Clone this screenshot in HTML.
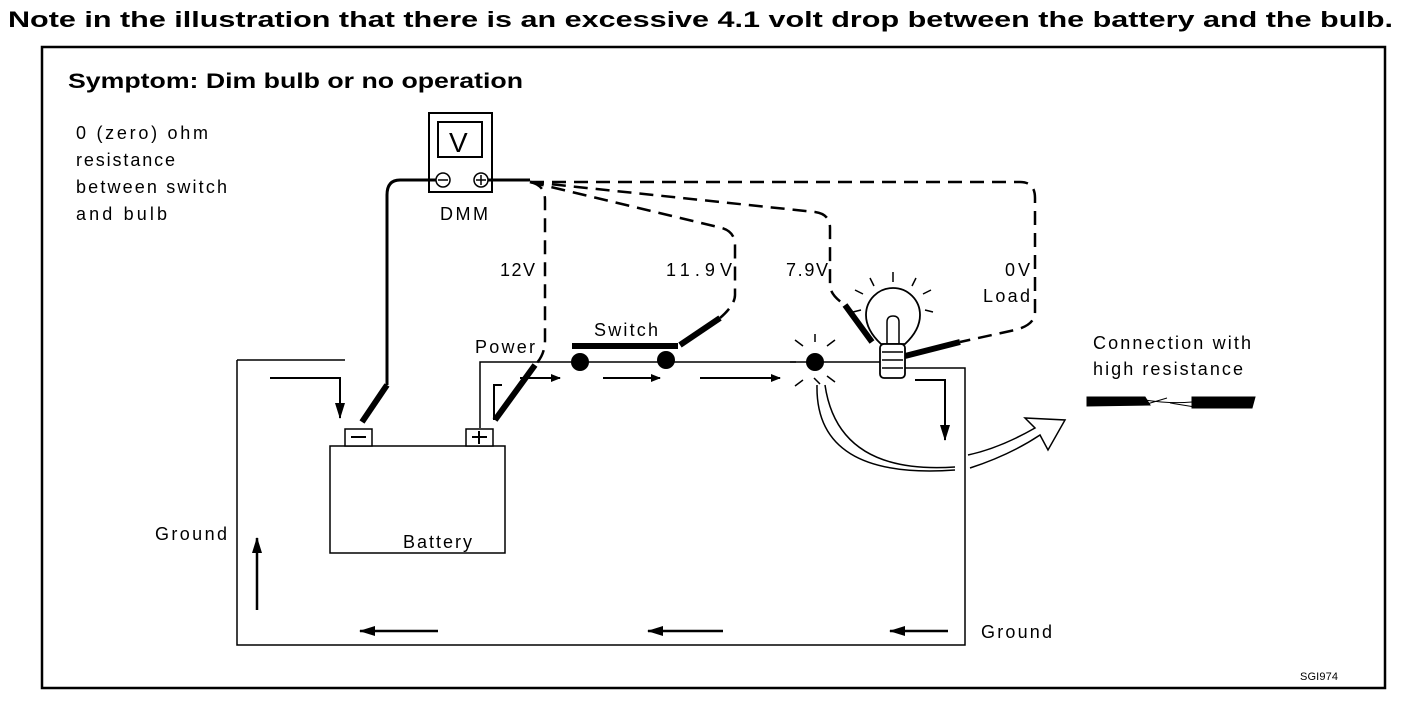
<!DOCTYPE html>
<html><head><style>
html,body{margin:0;padding:0;background:#fff;}
svg{display:block;}
text{font-family:"Liberation Sans",sans-serif;fill:#000;}
</style></head><body>
<svg width="1408" height="702" viewBox="0 0 1408 702" xmlns="http://www.w3.org/2000/svg">
<defs>
<marker id="ah" markerWidth="10" markerHeight="8" refX="9" refY="4" orient="auto" markerUnits="userSpaceOnUse">
<path d="M0,0 L10,4 L0,8 z" fill="#000"/></marker>
<marker id="ahl" markerWidth="16" markerHeight="10" refX="15" refY="5" orient="auto" markerUnits="userSpaceOnUse">
<path d="M0,0 L16,5 L0,10 z" fill="#000"/></marker>
</defs>
<rect x="42" y="47" width="1343" height="641" fill="none" stroke="#000" stroke-width="2.5"/>
<!-- DMM -->
<rect x="429" y="113" width="63" height="79" fill="#fff" stroke="#000" stroke-width="2"/>
<rect x="438" y="122" width="44" height="35" fill="none" stroke="#000" stroke-width="2"/>
<circle cx="443" cy="180" r="7" fill="none" stroke="#000" stroke-width="1.5"/>
<line x1="438" y1="180" x2="448" y2="180" stroke="#000" stroke-width="1.5"/>
<circle cx="481" cy="180" r="7" fill="none" stroke="#000" stroke-width="1.5"/>
<path d="M476,180h10M481,175v10" stroke="#000" stroke-width="1.5"/>
<g fill="none" stroke="#000">
<path d="M436,180 H400 Q387,180 387,195 V385" stroke-width="3"/>
<path d="M387,385 L362,422" stroke-width="6"/>
<path d="M488,180 H530" stroke-width="3"/>
<path d="M237,360 V645 H965 V368 H900" stroke-width="1.5"/>
<path d="M237,360 H345" stroke-width="1.5"/>
<path d="M480,428 V362 H815 H890" stroke-width="1.5"/>
<path d="M572,346 H678" stroke-width="6"/>
<g stroke-width="2.5" stroke-dasharray="14,8">
<path d="M530,182 Q545,185 545,200 V340 Q545,355 535,365"/>
<path d="M530,182 L722,228 Q735,232 735,245 V295 Q735,305 720,318"/>
<path d="M530,182 L815,212 Q830,214 830,228 V285 Q830,295 845,305"/>
<path d="M530,182 H1020 Q1035,182 1035,198 V312 Q1035,325 1015,330 L960,342"/>
</g>
<path d="M535,365 L495,420" stroke-width="6"/>
<path d="M720,318 L680,345" stroke-width="6"/>
<path d="M845,305 L872,342" stroke-width="6"/>
<path d="M960,342 L905,356" stroke-width="6"/>
<rect x="330" y="446" width="175" height="107" stroke-width="1.5" fill="#fff"/>
<rect x="345" y="429" width="27" height="17" stroke-width="1.5" fill="#fff"/>
<rect x="466" y="429" width="27" height="17" stroke-width="1.5" fill="#fff"/>
<path d="M351,437h15" stroke-width="2"/>
<path d="M472,437h15M479,431v13" stroke-width="2"/>
<path d="M270,378 H340 V418" stroke-width="2" marker-end="url(#ahl)"/>
<path d="M494,420 V385 H502" stroke-width="2"/>
<path d="M520,378 H560" stroke-width="2" marker-end="url(#ah)"/>
<path d="M603,378 H660" stroke-width="2" marker-end="url(#ah)"/>
<path d="M700,378 H780" stroke-width="2" marker-end="url(#ah)"/>
<path d="M915,380 H945 V440" stroke-width="2" marker-end="url(#ahl)"/>
<path d="M438,631 H360" stroke-width="2.5" marker-end="url(#ahl)"/>
<path d="M723,631 H648" stroke-width="2.5" marker-end="url(#ahl)"/>
<path d="M948,631 H890" stroke-width="2.5" marker-end="url(#ahl)"/>
<path d="M257,610 V538" stroke-width="2.5" marker-end="url(#ahl)"/>
<path d="M817,385 Q815,480 955,470 M970,468 Q1010,455 1040,435 L1048,450 L1065,420 L1025,418 L1035,428 Q1000,448 968,455 M955,467 Q838,475 825,385" stroke-width="1.5"/>
<path d="M881,344 Q866,330 866,315 A27,27 0 1 1 920,315 Q920,330 905,344 Z" stroke-width="1.8" fill="#fff"/>
<rect x="880" y="344" width="25" height="34" rx="4" stroke-width="1.8" fill="#fff"/>
<path d="M882,352h21M882,360h21M882,368h21" stroke-width="1.5"/>
<path d="M887,344 V322 Q887,316 893,316 Q899,316 899,322 V344" stroke-width="1.5"/>
<path d="M893,272v10M870,278l4,8M916,278l-4,8M855,290l8,4M931,290l-8,4M853,312l8,-2M933,312l-8,-2" stroke-width="1.5"/>
<path d="M795,340l8,6M815,334v8M835,340l-8,6M795,386l8,-6M820,384l-6,-6M835,382l-8,-6M790,362h6" stroke-width="1.5"/>
<path d="M1087,397 H1145 L1150,405 L1087,406 Z M1192,397 H1255 L1252,408 H1192 Z" fill="#000" stroke-width="1"/>
<path d="M1145,400 Q1170,404 1192,402 M1147,404 l20,-6 M1170,403 l25,4" stroke-width="1"/>
</g>
<circle cx="580" cy="362" r="9" fill="#000"/>
<circle cx="666" cy="360" r="9" fill="#000"/>
<circle cx="815" cy="362" r="9" fill="#000"/>
<!-- text -->
<text x="8" y="27" font-size="22" font-weight="bold" textLength="1385" lengthAdjust="spacingAndGlyphs">Note in the illustration that there is an excessive 4.1 volt drop between the battery and the bulb.</text>
<text x="68" y="88" font-size="21" font-weight="bold" textLength="455" lengthAdjust="spacingAndGlyphs">Symptom: Dim bulb or no operation</text>
<text x="449" y="152" font-size="28">V</text>
<g font-size="18">
<text x="76" y="139" textLength="132">0 (zero) ohm</text>
<text x="76" y="166" textLength="99">resistance</text>
<text x="76" y="193" textLength="151">between switch</text>
<text x="76" y="220" textLength="91">and bulb</text>
<text x="440" y="220" textLength="48">DMM</text>
<text x="500" y="276" textLength="35">12V</text>
<text x="666" y="276" textLength="66">11.9V</text>
<text x="786" y="276" textLength="42">7.9V</text>
<text x="1005" y="276" textLength="25">0V</text>
<text x="983" y="302" textLength="47">Load</text>
<text x="475" y="353" textLength="60">Power</text>
<text x="594" y="336" textLength="64">Switch</text>
<text x="155" y="540" textLength="72">Ground</text>
<text x="403" y="548" textLength="69">Battery</text>
<text x="981" y="638" textLength="71">Ground</text>
<text x="1093" y="349" textLength="158">Connection with</text>
<text x="1093" y="375" textLength="150">high resistance</text>
</g>
<text x="1300" y="680" font-size="11" textLength="38">SGI974</text>
</svg>
</body></html>
